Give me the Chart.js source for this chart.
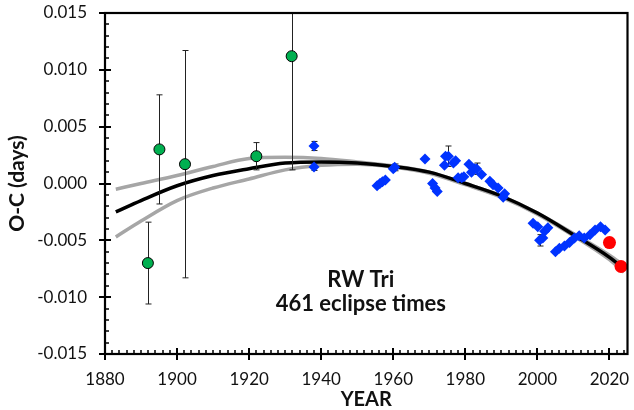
<!DOCTYPE html>
<html><head><meta charset="utf-8">
<script src="https://cdn.jsdelivr.net/npm/chart.js@4/dist/chart.umd.min.js"></script>
<style>html,body{margin:0;padding:0;background:#fff}</style>
</head><body>
<canvas id="c" width="634" height="410"></canvas>
<script>
// ---- data ----
const xTicks = [1880, 1900, 1920, 1940, 1960, 1980, 2000, 2020];
const yTicks = [-0.015, -0.010, -0.005, 0.000, 0.005, 0.010, 0.015];
const xMinorStep = 2;
const yMinorStep = 0.001;

const greenYears = [1891.9, 1895.1, 1902.2, 1922.0, 1931.8];
const greenOC    = [-0.0070, 0.0030, 0.0017, 0.0024, 0.0112];
const greenErr   = [0.0036, 0.0048, 0.0100, 0.0012, 0.0100];

const blueYears = [1938.0, 1938.0, 1955.5, 1956.3, 1957.0, 1957.8, 1960.0, 1960.4,
  1968.8, 1970.9, 1971.6, 1972.2, 1974.2, 1974.5, 1975.3, 1976.7, 1977.3, 1978.0,
  1979.0, 1979.6, 1981.0, 1981.7, 1982.5, 1983.1, 1984.5, 1986.8, 1987.7, 1989.1,
  1990.5, 1990.9, 1998.8, 2000.1, 2000.6, 2001.5, 2002.0, 2002.9, 2005.0, 2006.1,
  2007.5, 2008.9, 2010.3, 2011.6, 2013.0, 2014.6, 2016.0, 2017.5, 2018.8];
const blueOC = [0.0033, 0.00145, -0.0002, 0.0000, 0.00015, 0.0003, 0.0013, 0.00142,
  0.00215, 0.0000, -0.0004, -0.0007, 0.0016, 0.0024, 0.0024, 0.0018, 0.0020, 0.0005,
  0.0005, 0.0006, 0.0017, 0.0010, 0.0013, 0.0013, 0.0008, 0.0002, -0.0001, -0.0004,
  -0.0012, -0.0009, -0.0035, -0.0038, -0.0050, -0.0048, -0.0042, -0.0039, -0.0060, -0.0057,
  -0.0055, -0.0052, -0.0048, -0.0046, -0.0048, -0.0045, -0.0041, -0.0038, -0.0041];
const blueErr = [0.0004, 0.0003, 0, 0, 0, 0, 0, 0.0003,
  0, 0, 0, 0, 0, 0, 0.0009, 0, 0, 0,
  0, 0, 0, 0, 0, 0.0005, 0, 0, 0, 0,
  0, 0, 0, 0, 0.0005, 0, 0, 0, 0, 0,
  0, 0, 0, 0, 0, 0, 0, 0, 0];

const redYears = [2020.0, 2023.2];
const redOC    = [-0.0052, -0.0073];

const fitYears = [1883, 1890, 1900, 1910, 1920, 1930, 1940, 1950, 1960, 1970, 1980, 1990, 2000, 2010, 2020, 2024];
const fitOC    = [-0.0025, -0.0015, -0.0002, 0.0007, 0.0013, 0.0018, 0.0019, 0.0018, 0.0015, 0.0010, 0.0000, -0.0011, -0.0026, -0.0045, -0.0065, -0.0075];
const upperOC  = [-0.0005, 0.0000, 0.0007, 0.0015, 0.0022, 0.0023, 0.0022, 0.0019, 0.00155, 0.0010, 0.0000, -0.0011, -0.0026, -0.0044, -0.0063, -0.0072];
const lowerOC  = [-0.0047, -0.0033, -0.0015, -0.0004, 0.0004, 0.0012, 0.0016, 0.0017, 0.00145, 0.0009, -0.0001, -0.0012, -0.0027, -0.0046, -0.0067, -0.0078];

const labelLines = ['RW Tri', '461 eclipse times'];
const labelAt = {x: 1951.0, y: -0.0085};

// ---- build ----
const pts = (xs, ys) => xs.map((t, i) => ({x: t, y: ys[i]}));
const FONT = "Lato, 'Open Sans', sans-serif";

const errBars = {
  id: 'errBars',
  beforeDatasetDraw(chart, args) {
    const ds = chart.data.datasets[args.index];
    if (!ds.err) return;
    const {ctx, chartArea: a, scales: {x, y}} = chart;
    ctx.save();
    ctx.beginPath(); ctx.rect(a.left, a.top, a.width, a.height); ctx.clip();
    ctx.strokeStyle = '#222'; ctx.lineWidth = 1;
    ds.data.forEach((p, i) => {
      const e = ds.err[i]; if (!e) return;
      const px = Math.round(x.getPixelForValue(p.x)) + 0.5;
      const y1 = y.getPixelForValue(p.y + e), y2 = y.getPixelForValue(p.y - e);
      ctx.beginPath();
      ctx.moveTo(px, y1); ctx.lineTo(px, y2);
      ctx.moveTo(px - 3, y1); ctx.lineTo(px + 3, y1);
      ctx.moveTo(px - 3, y2); ctx.lineTo(px + 3, y2);
      ctx.stroke();
    });
    ctx.restore();
  }
};

const frame = {
  id: 'frame',
  afterDatasetsDraw(chart) {
    const {ctx, chartArea: a, scales: {x, y}} = chart;
    ctx.save();
    ctx.strokeStyle = '#000';
    ctx.lineWidth = 1.5;
    ctx.beginPath();
    const x0 = xTicks[0], x1 = x.max;
    for (let k = 0; x0 + k * xMinorStep <= x1 + 1e-9; k++) {
      const px = Math.round(x.getPixelForValue(x0 + k * xMinorStep));
      ctx.moveTo(px, a.bottom); ctx.lineTo(px, a.bottom - 4);
    }
    const n = Math.round((y.max - y.min) / yMinorStep);
    for (let k = 0; k <= n; k++) {
      const py = Math.round(y.getPixelForValue(y.min + k * yMinorStep));
      ctx.moveTo(a.left, py); ctx.lineTo(a.left + 4, py);
    }
    ctx.stroke();
    ctx.lineWidth = 2;
    ctx.beginPath();
    xTicks.forEach(v => { const px = Math.round(x.getPixelForValue(v)); ctx.moveTo(px, a.bottom + 6); ctx.lineTo(px, a.bottom - 6); });
    yTicks.forEach(v => { const py = Math.round(y.getPixelForValue(v)); ctx.moveTo(a.left - 6, py); ctx.lineTo(a.left + 6, py); });
    ctx.stroke();
    ctx.lineWidth = 2.2;
    ctx.strokeRect(a.left, a.top, a.right - a.left, a.bottom - a.top);
    ctx.fillStyle = '#111';
    ctx.font = "bold 22px " + FONT;
    ctx.textAlign = 'center'; ctx.textBaseline = 'middle';
    const cx = x.getPixelForValue(labelAt.x), cy = y.getPixelForValue(labelAt.y);
    labelLines.forEach((t, i) => ctx.fillText(t, cx, cy + i * 24));
    ctx.restore();
  }
};

new Chart(document.getElementById('c'), {
  type: 'scatter',
  data: {
    datasets: [
      {data: pts(redYears, redOC), pointStyle: 'circle', pointRadius: 6.5, backgroundColor: '#FF0000', borderColor: '#FF0000', borderWidth: 0},
      {data: pts(greenYears, greenOC), err: greenErr, pointStyle: 'circle', pointRadius: 5.5, backgroundColor: '#00B050', borderColor: '#000', borderWidth: 1},
      {data: pts(blueYears, blueOC), err: blueErr, pointStyle: 'rectRot', pointRadius: 5.5, backgroundColor: '#0033FF', borderColor: '#0033FF', borderWidth: 0},
      {data: pts(fitYears, fitOC), showLine: true, pointRadius: 0, borderColor: '#000', borderWidth: 3.5, cubicInterpolationMode: 'monotone'},
      {data: pts(fitYears, upperOC), showLine: true, pointRadius: 0, borderColor: '#A6A6A6', borderWidth: 3.5, cubicInterpolationMode: 'monotone'},
      {data: pts(fitYears, lowerOC), showLine: true, pointRadius: 0, borderColor: '#A6A6A6', borderWidth: 3.5, cubicInterpolationMode: 'monotone'}
    ]
  },
  options: {
    responsive: false, animation: false, devicePixelRatio: 1,
    layout: {padding: {top: 13, right: 3, left: 0, bottom: 0}},
    plugins: {legend: {display: false}, tooltip: {enabled: false}},
    scales: {
      x: {
        type: 'linear', min: 1880, max: 2025,
        afterFit: s => { s.height = 56; s.paddingLeft = 0; s.paddingRight = 0; },
        afterBuildTicks: s => { s.ticks = xTicks.map(v => ({value: v})); },
        grid: {display: false, drawTicks: false}, border: {display: false},
        ticks: {padding: 15, color: '#111', font: {family: FONT, size: 17}, callback: v => String(v), maxRotation: 0, autoSkip: false},
        title: {display: true, text: 'YEAR', color: '#111', font: {family: FONT, size: 20, weight: 'bold', lineHeight: 1}, padding: {top: 0, bottom: 0}}
      },
      y: {
        type: 'linear', min: -0.015, max: 0.015,
        afterFit: s => { s.width = 105; s.paddingTop = 0; s.paddingBottom = 0; },
        afterBuildTicks: s => { s.ticks = yTicks.map(v => ({value: v})); },
        grid: {display: false, drawTicks: false}, border: {display: false},
        ticks: {padding: 18, color: '#111', font: {family: FONT, size: 17}, callback: v => (Math.abs(v) < 1e-9 ? 0 : v).toFixed(3), autoSkip: false},
        title: {display: true, text: 'O-C (days)', color: '#111', font: {family: FONT, size: 21, weight: 'bold', lineHeight: 1}, padding: {top: 7, bottom: 0}}
      }
    }
  },
  plugins: [errBars, frame]
});
</script>
</body></html>
